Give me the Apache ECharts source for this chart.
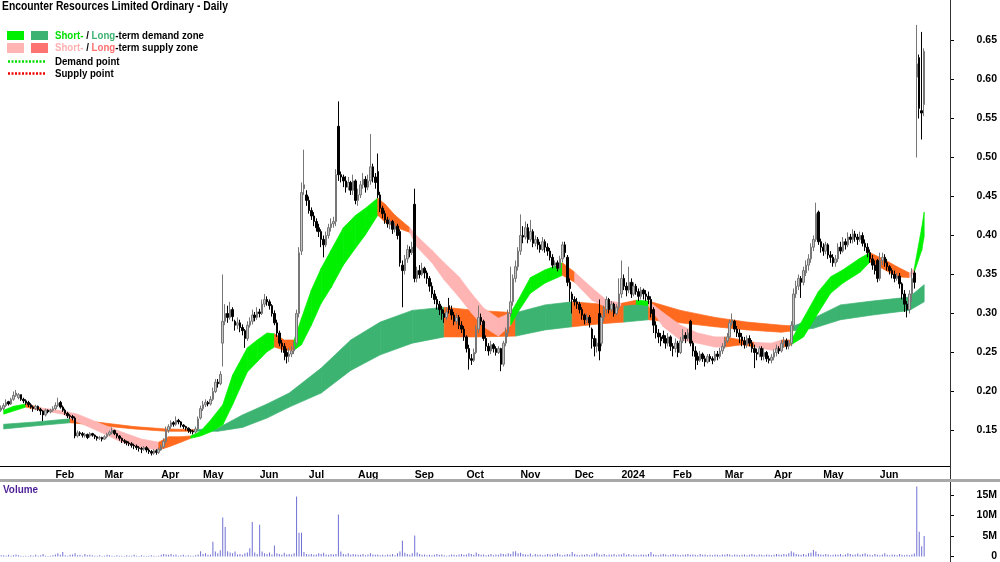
<!DOCTYPE html>
<html>
<head>
<meta charset="utf-8">
<script src="https://cdn.jsdelivr.net/npm/echarts@6/dist/echarts.min.js"></script>
<style>
html, body { margin: 0; padding: 0; background: #fff; }
#chart { width: 1000px; height: 562px; }
</style>
</head>
<body>
<div id="chart"></div>
<script>
// trading days (ASX holidays and two halted days are skipped)
var holidays = ['2023-01-02','2023-01-26','2023-04-07','2023-04-10','2023-04-25','2023-06-12','2023-06-29','2023-07-20',
    '2023-12-25','2023-12-26','2024-01-01','2024-01-26','2024-03-29','2024-04-01','2024-04-25','2024-06-10'];
var monthNames = ['Jan','Feb','Mar','Apr','May','Jun','Jul','Aug','Sep','Oct','Nov','Dec'];

// prices in thousandths of a dollar
var openP = [176,
    178,182,187,184,190,195,192,196,190, 188,186,183,180,178,181,177,175,170,176, 174,176,178,182,186,180,176,172,169,168,
    166,143,147,146,143,145,143,146,144, 142,140,141,139,142,145,147,150,146,143, 140,137,136,134,133,131,130,128,127,126,
    128,125,123,121,124,122,125,129,136, 150,155,160,158,163,161,157,155,153,150, 149,148,152,166,178,183,186,184,190,200,
    212,210,262,290,300,295,305,290,285, 288,282,278,268,285,290,298,295,302,300, 312,318,315,310,300,288,275,262,258,250,
    245,248,252,262,300,380,460,452,445, 432,425,418,410,405,395,388,400,410,415, 418,540,478,475,470,462,468,458,470,445,
    452,465,472,462,470,488,475,482,452, 435,428,420,415,418,408,412,405,362,355, 370,382,378,440,345,355,350,358,352,345,
    335,325,318,312,305,300,295,310,305, 298,290,295,285,280,270,255,242,240,250, 280,295,290,268,258,252,260,255,250,255,
    235,262,275,300,315,345,360,380,400, 398,410,395,405,390,395,388,382,392,385, 380,372,362,365,358,370,388,372,340,325,
    318,315,312,305,298,292,295,280,268, 258,300,262,295,305,318,305,312,300,308, 325,345,335,330,340,325,335,328,322,330,
    325,322,318,305,285,275,270,272,268, 262,270,258,255,262,250,265,272,268,290, 262,252,245,240,248,242,238,245,242,240,
    248,245,252,258,265,270,288,290,280, 275,270,265,260,268,262,255,250,248,255, 245,250,242,240,244,250,255,252,262,265,
    258,262,285,325,335,345,340,352,362, 370,385,395,430,392,385,380,388,375,372, 365,370,385,380,392,388,398,395,402,398,
    395,400,390,385,378,370,362,368,345, 368,372,365,360,355,350,345,348,338,325, 312,305,325,352,603,628,560,568];
var closeP = [179,
    182,186,184,190,195,198,196,190,188, 185,183,180,178,181,177,175,170,176,174, 176,178,182,185,180,176,172,169,168,166,
    143,147,146,144,145,141,146,144,142, 140,141,139,142,145,148,150,146,143,140, 137,136,134,133,131,130,128,127,126,128,
    125,123,121,124,122,126,129,136,150, 155,160,158,163,161,157,155,153,150,149, 148,152,165,178,183,186,184,190,200,212,
    210,222,290,300,295,305,296,285,288, 282,278,268,285,290,298,295,302,300,312, 318,315,310,300,288,275,262,258,250,245,
    248,252,258,300,378,455,465,445,432, 425,418,410,405,395,388,400,410,415,418, 478,478,475,470,462,468,458,470,445,452,
    465,472,462,470,488,475,468,452,435, 428,420,415,418,408,412,400,365,355,370, 382,378,385,345,355,350,358,352,345,335,
    325,318,312,305,300,295,302,305,298, 290,295,285,280,270,255,242,240,250,280, 295,290,268,258,252,260,255,250,255,235,
    262,275,300,315,345,360,380,400,398, 410,395,405,390,395,388,382,392,385,380, 372,362,365,358,370,388,378,340,332,318,
    315,312,305,298,292,295,288,268,258, 262,252,295,305,318,305,312,300,308,325, 345,335,330,340,325,335,328,322,330,325,
    322,318,300,285,275,270,265,268,262, 270,258,255,262,250,265,272,268,275,262, 252,245,240,248,242,238,245,242,240,248,
    245,252,258,265,270,288,292,280,275, 270,265,260,268,262,255,250,248,255,245, 250,242,240,244,250,255,252,262,265,258,
    262,285,325,335,345,340,355,362,370, 385,395,428,392,385,380,388,375,372,365, 370,385,380,392,388,398,395,402,398,395,
    400,390,385,378,370,362,355,345,368, 372,365,360,355,350,345,348,338,325,312, 305,325,345,340,620,563,557,636];
var highP = [182,
    185,190,188,192,200,202,198,196,192, 190,188,185,182,183,182,179,176,178,177, 178,181,186,192,188,182,178,174,171,170,
    168,150,149,148,147,146,148,147,145, 143,143,142,144,147,150,154,151,147,144, 141,139,137,136,135,133,132,130,129,130,
    130,127,125,126,126,128,132,140,155, 158,163,162,168,165,162,158,156,154,152, 151,155,168,182,188,190,188,194,205,216,
    216,226,350,312,310,315,308,292,295, 292,286,280,290,295,305,302,308,306,318, 325,322,318,312,304,292,278,266,262,255,
    256,258,264,305,385,468,510,458,450, 436,430,422,415,408,400,405,415,422,424, 485,572,482,478,476,475,470,478,472,460,
    470,480,476,478,530,492,480,505,456, 438,432,424,422,420,416,415,408,368,375, 388,386,392,460,360,362,365,360,355,348,
    340,330,322,316,310,305,308,320,310, 302,300,298,290,284,272,260,248,255,285, 310,300,292,272,262,265,262,258,258,256,
    265,282,305,360,350,368,385,427,412, 418,415,420,408,400,398,392,398,395,390, 384,376,368,368,374,392,392,375,345,328,
    322,320,315,308,300,300,298,282,272, 268,318,298,310,322,320,316,314,312,345, 368,350,340,360,345,340,338,332,334,332,
    330,328,322,308,290,280,275,278,272, 275,272,262,268,265,270,280,276,280,292, 265,258,250,252,250,246,248,248,245,252,
    252,256,262,270,275,292,300,292,284, 280,275,270,272,272,266,260,255,258,258, 256,252,246,248,254,260,258,266,270,268,
    266,290,332,342,350,348,360,368,376, 390,400,442,432,396,390,392,390,380,376, 375,390,392,398,396,404,402,408,406,402,
    405,404,395,390,382,375,368,370,378, 378,376,370,362,358,355,352,352,340,330, 316,330,358,355,670,632,661,640];
var lowP = [174,
    176,180,182,183,188,193,190,188,185, 183,180,178,174,176,175,170,162,168,172, 172,174,176,180,178,174,170,166,165,163,
    140,141,143,141,141,139,141,142,139, 137,138,136,138,140,143,145,144,140,137, 134,133,131,130,128,126,125,123,121,124,
    122,120,118,119,119,120,124,127,134, 147,152,155,156,158,154,152,150,147,146, 145,146,150,164,175,180,181,182,188,198,
    205,208,232,285,288,292,290,278,280, 276,272,256,265,282,286,290,292,295,298, 308,310,305,296,285,270,258,250,240,236,
    238,244,248,258,295,375,452,438,428, 420,412,405,398,385,372,385,396,405,410, 412,470,468,462,455,458,452,452,440,438,
    448,460,455,458,465,468,460,448,430, 422,415,410,408,402,404,395,360,308,350, 365,372,375,340,340,345,348,345,338,328,
    320,312,305,298,292,288,292,300,292, 285,286,280,275,265,250,228,234,238,248, 275,285,265,252,246,248,250,246,248,226,
    232,258,270,296,310,340,355,375,390, 395,390,392,385,386,382,378,380,378,374, 368,358,358,354,356,366,372,335,315,300,
    310,306,300,292,286,288,282,255,245, 250,240,258,290,300,300,302,296,298,305, 320,330,322,326,320,322,324,316,318,318,
    316,312,295,275,268,262,258,262,255, 258,252,245,250,244,248,262,262,265,258, 245,228,234,238,238,232,236,238,235,238,
    240,242,248,255,262,268,284,276,270, 262,258,255,256,258,250,230,240,244,240, 240,238,236,236,240,245,248,250,256,254,
    254,258,280,320,330,320,336,348,355, 365,380,392,388,378,374,376,370,365,360, 360,366,376,378,382,385,390,390,392,388,
    392,386,380,372,365,356,350,340,342, 362,360,355,350,345,340,342,332,318,302, 295,300,315,332,500,550,523,553];
// volume in 0.1M shares
var volumes = [3,
    3,2,4,2,3,5,3,2,1, 2,1,3,2,4,2,3,6,2,1, 2,3,5,8,4,11,3,2,4,5,
    8,3,4,2,6,3,4,3,2, 2,3,1,2,4,3,2,1,3,2, 2,1,3,2,2,4,2,1,3,2,
    1,2,3,2,1,2,4,6,5, 4,6,3,5,2,3,4,2,3,2, 2,3,5,13,6,8,4,5,36,12,
    8,15,95,72,13,10,8,12,5, 6,4,8,10,20,84,10,6,77,12, 8,6,10,5,27,8,6,4,9,5,
    6,5,8,146,58,58,11,6,5, 6,4,5,8,6,9,5,4,6,5, 6,102,12,6,5,8,4,6,5,4,
    4,6,3,5,8,5,4,5,3, 4,3,5,4,6,3,8,12,38,9, 6,4,8,51,10,6,4,5,3,4,
    3,4,6,4,5,3,2,3,5, 4,3,5,6,4,5,8,6,4,10, 6,4,5,3,4,6,3,5,4,7,
    6,5,8,6,12,13,8,9,6, 5,4,7,3,6,4,5,3,4,6, 5,4,6,8,5,3,4,6,5,11,
    6,4,3,5,4,6,3,5,7, 9,5,4,6,3,5,4,6,3,5, 5,8,4,6,3,5,4,3,5,4,
    4,6,11,5,4,3,5,6,5, 3,4,6,5,4,3,4,5,6,4, 5,4,3,6,4,5,3,4,3,5,
    4,3,5,4,6,5,3,5,4, 3,4,5,3,4,6,4,3,5,4, 3,5,4,3,4,6,5,4,6,5,
    8,13,10,6,5,4,6,4,8, 9,16,12,6,5,4,6,5,3,4, 5,4,6,3,5,8,6,4,5,7,
    4,6,8,5,4,3,6,4,3, 5,8,4,3,5,4,3,6,4,3, 4,3,5,7,170,60,25,50];

// short-term band (trading-day index, upper, lower, colour of following stretch)
var stIdx = [1,5,10,16,25,31,41,49,57,64, 68,73,77,81,85,90,94,100,104,108, 111,115,119,122,126,130,134,139,144,148,
    153,156,160,166,169,175,180,186,191,196, 202,207,210,215,221,226,228,233,240,246, 252,258,263,269,276,283,290,294,301,306,
    313,317,321,326,332,337,342,349,353,359, 364,369,371,374,375];
var stHi = [176,181,184,179,175,171,158,148,139,135, 142,142,143,149,163,183,221,256,266,275, 274,266,266,294,330,358,381,410,426,435,
    448,440,426,410,399,381,365,347,326,307, 294,301,317,346,356,362,365,353,333,317, 313,317,316,301,285,275,270,270,266,263,
    262,266,266,294,328,347,356,371,378,369, 360,352,358,410,430];
var stLo = [171,175,180,176,171,161,147,135,128,125, 129,135,140,143,148,157,183,225,238,251, 257,253,253,260,285,313,333,362,384,401,
    426,417,411,404,385,365,343,321,301,283, 271,285,302,326,339,346,349,340,317,308, 310,312,310,283,266,262,257,257,260,257,
    253,256,260,270,301,326,339,353,366,356, 347,346,353,381,399];
var stCol = ['g','g','o','p','p','p','p','p','p','o', 'o','o','g','g','g','g','g','g','g','g', 'o','o','g','g','g','g','g','g','g','g',
    'o','o','o','p','p','p','p','p','p','p', 'p','g','g','g','g','g','o','p','p','p', 'o','g','p','p','p','p','p','o','o','p',
    'p','o','g','g','g','g','g','g','o','o', 'o','p','g','g','g'];

// long-term band
var ltIdx = [1,14,28,41,54,67,79,88,98,108, 117,130,142,154,167,180,193,209,221,232, 244,253,263,276,290,303,317,322,330,341, 354,369,375];
var ltHi = [158,161,165,160,155,152,151,153,170,184, 198,230,266,289,304,308,304,301,311,315, 312,311,316,304,295,289,285,284,294,311, 316,321,337];
var ltLo = [152,156,160,156,152,149,149,149,154,166, 180,198,227,247,262,270,270,271,279,283, 287,289,292,288,283,279,276,278,281,292, 298,304,315];
var ltCol = ['d','d','o','o','o','o','d','d','d','d', 'd','d','d','d','d','o','o','d','d','o', 'o','d','o','o','o','o','o','d','d','d', 'd','d','d'];

var priceTicks = [0.15,0.20,0.25,0.30,0.35,0.40,0.45,0.50,0.55,0.60,0.65];
var volumeTicks = [0, 5e6, 10e6, 15e6];

var zoneColors = { g: '#00f000', d: '#3cb371', p: '#ffb4b4', o: '#ff6a1e' };
var FONT = '"Liberation Sans", Arial, sans-serif';

var dates = [];
var t = Date.UTC(2022, 11, 29);
while (dates.length < 386) {
    var dd = new Date(t);
    var s = dd.toISOString().slice(0, 10);
    var wd = dd.getUTCDay();
    if (wd !== 0 && wd !== 6 && holidays.indexOf(s) < 0) dates.push(s);
    t += 86400000;
}

// first trading day of each month gets a tick; the partial first month and the empty tail do not
function monthLabel(i) {
    if (i < 10 || i >= closeP.length) return null;
    var m = dates[i].slice(5, 7);
    if (m === dates[i - 1].slice(5, 7)) return null;
    return m === '01' ? dates[i].slice(0, 4) : monthNames[+m - 1];
}

var candles = [];
for (var i = 0; i < closeP.length; i++) {
    candles.push([openP[i] / 1000, closeP[i] / 1000, lowP[i] / 1000, highP[i] / 1000]);
}
var volData = volumes.map(function (v) { return v * 1e5; });

function segments(idx, hi, lo) {
    var out = [];
    for (var k = 0; k < idx.length - 1; k++) {
        out.push([idx[k], hi[k] / 1000, lo[k] / 1000, idx[k + 1], hi[k + 1] / 1000, lo[k + 1] / 1000]);
    }
    return out;
}

function bandRenderer(cols) {
    return function (params, api) {
        var c = zoneColors[cols[params.dataIndex]];
        var pts = [
            api.coord([api.value(0), api.value(1)]),
            api.coord([api.value(3), api.value(4)]),
            api.coord([api.value(3), api.value(5)]),
            api.coord([api.value(0), api.value(2)])
        ];
        return {
            type: 'polygon',
            shape: { points: pts },
            style: { fill: c, stroke: c, lineWidth: 0.7 }
        };
    };
}

function legendText(x, y, text, rich) {
    return {
        type: 'text', x: x, y: y, scaleX: 0.88, z: 100,
        style: { text: text, font: 'bold 11px ' + FONT, fill: '#000', verticalAlign: 'middle', rich: rich || {} }
    };
}

var chart = echarts.init(document.getElementById('chart'));

var option = {
    animation: false,
    backgroundColor: '#fff',
    grid: [
        { left: -2, right: 50, top: 0, height: 466 },
        { left: -2, right: 50, top: 486, height: 72 }
    ],
    xAxis: [{
        type: 'category',
        gridIndex: 0,
        data: dates,
        boundaryGap: true,
        axisLine: { lineStyle: { color: '#000', width: 1 } },
        axisTick: {
            interval: function (idx) { return monthLabel(idx) !== null; },
            length: 5,
            lineStyle: { color: '#000' }
        },
        axisLabel: {
            interval: function (idx) { return monthLabel(idx) !== null; },
            formatter: function (v, idx) { return monthLabel(idx) || ''; },
            align: 'left',
            margin: 4,
            color: '#000',
            fontWeight: 'bold',
            fontSize: 10.5,
            fontFamily: FONT
        },
        splitLine: { show: false }
    }, {
        type: 'category',
        gridIndex: 1,
        data: dates,
        boundaryGap: true,
        axisLine: { show: false },
        axisTick: { show: false },
        axisLabel: { show: false }
    }],
    yAxis: [{
        type: 'value',
        gridIndex: 0,
        position: 'right',
        min: 0.1045,
        max: 0.7019,
        axisLine: { show: false },
        axisTick: { show: true, length: 4, customValues: priceTicks, lineStyle: { color: '#000' } },
        axisLabel: {
            customValues: priceTicks,
            formatter: function (v) { return v.toFixed(2); },
            align: 'right',
            margin: 47,
            color: '#000',
            fontWeight: 'bold',
            fontSize: 10.5,
            fontFamily: FONT
        },
        splitLine: { show: false }
    }, {
        type: 'value',
        gridIndex: 1,
        position: 'right',
        min: 0,
        max: 17.14e6,
        axisLine: { show: false },
        axisTick: { show: true, length: 4, customValues: volumeTicks, lineStyle: { color: '#000' } },
        axisLabel: {
            customValues: volumeTicks,
            formatter: function (v) { return v === 0 ? '0' : (v / 1e6) + 'M'; },
            align: 'right',
            margin: 47,
            color: '#000',
            fontWeight: 'bold',
            fontSize: 10.5,
            fontFamily: FONT
        },
        splitLine: { show: false }
    }],
    graphic: [
        { type: 'line', shape: { x1: 950.5, y1: 0, x2: 950.5, y2: 562 }, style: { stroke: '#333', lineWidth: 1 }, z: 100 },
        { type: 'rect', shape: { x: 0, y: 479, width: 1000, height: 3 }, style: { fill: '#a8a8a8' }, z: 100 },
        { type: 'text', x: 2, y: 7, scaleX: 0.86, z: 100,
          style: { text: 'Encounter Resources Limited Ordinary - Daily', font: 'bold 12px ' + FONT, fill: '#000', verticalAlign: 'middle' } },
        { type: 'rect', shape: { x: 7, y: 31, width: 17, height: 9 }, style: { fill: '#00f000' }, z: 100 },
        { type: 'rect', shape: { x: 31, y: 31, width: 17, height: 9 }, style: { fill: '#3cb371' }, z: 100 },
        { type: 'rect', shape: { x: 7, y: 43, width: 17, height: 10 }, style: { fill: '#ffb4b4' }, z: 100 },
        { type: 'rect', shape: { x: 31, y: 43, width: 17, height: 10 }, style: { fill: '#ff7272' }, z: 100 },
        { type: 'line', shape: { x1: 8, y1: 61.5, x2: 45, y2: 61.5 }, style: { stroke: '#00e000', lineWidth: 2.5, lineDash: [2, 1.5] }, z: 100 },
        { type: 'line', shape: { x1: 8, y1: 73.5, x2: 45, y2: 73.5 }, style: { stroke: '#ee0000', lineWidth: 2.5, lineDash: [2, 1.5] }, z: 100 },
        legendText(55, 36, '{a|Short-} / {b|Long}-term demand zone', {
            a: { fill: '#00e000', font: 'bold 11px ' + FONT }, b: { fill: '#3cb371', font: 'bold 11px ' + FONT } }),
        legendText(55, 48, '{a|Short-} / {b|Long}-term supply zone', {
            a: { fill: '#ffb0b0', font: 'bold 11px ' + FONT }, b: { fill: '#ff6f6f', font: 'bold 11px ' + FONT } }),
        legendText(55, 62, 'Demand point'),
        legendText(55, 74, 'Supply point'),
        { type: 'text', x: 3, y: 490, scaleX: 0.9, z: 100,
          style: { text: 'Volume', font: 'bold 11px ' + FONT, fill: '#4b1d96', verticalAlign: 'middle' } }
    ],
    series: [{
        name: 'Long-term zone',
        type: 'custom',
        xAxisIndex: 0,
        yAxisIndex: 0,
        clip: true,
        renderItem: bandRenderer(ltCol),
        encode: { x: [0, 3], y: [1, 2, 4, 5] },
        data: segments(ltIdx, ltHi, ltLo)
    }, {
        name: 'Short-term zone',
        type: 'custom',
        xAxisIndex: 0,
        yAxisIndex: 0,
        clip: true,
        renderItem: bandRenderer(stCol),
        encode: { x: [0, 3], y: [1, 2, 4, 5] },
        data: segments(stIdx, stHi, stLo)
    }, {
        name: 'Price',
        type: 'candlestick',
        xAxisIndex: 0,
        yAxisIndex: 0,
        barWidth: 2,
        itemStyle: {
            color: '#c4c4c4',
            color0: '#000',
            borderColor: '#777',
            borderColor0: '#000',
            borderWidth: 1
        },
        data: candles
    }, {
        name: 'Volume',
        type: 'bar',
        xAxisIndex: 1,
        yAxisIndex: 1,
        barWidth: 1,
        itemStyle: { color: '#7070d4' },
        data: volData
    }]
};

chart.setOption(option);
</script>
</body>
</html>
